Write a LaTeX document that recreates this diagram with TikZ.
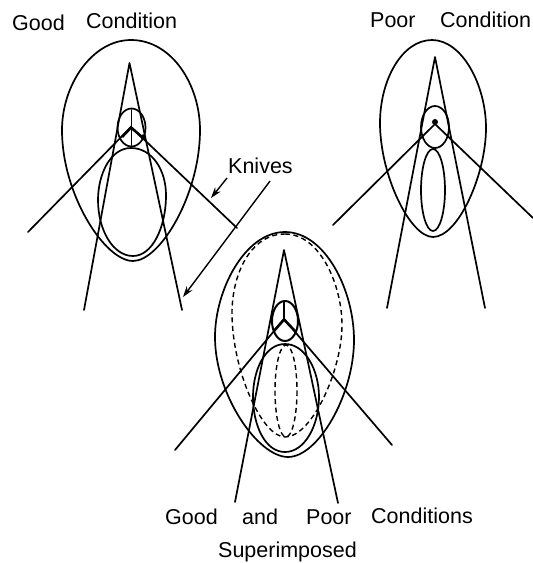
\documentclass[tikz,border=0pt]{standalone}
\usepackage{fontspec}
\setmainfont{Liberation Sans}
\usetikzlibrary{arrows.meta}
\tikzset{
  ink/.style={line width=1.7pt,black,line join=round,line cap=round},
  dash ink/.style={line width=1.4pt,black,dash pattern=on 5pt off 3.5pt},
  label word/.style={anchor=base west,inner sep=0pt,font=\fontsize{21.5}{24}\selectfont},
  pointer/.style={line width=1.4pt,-{Stealth[length=11pt,width=7pt]}}
}
\begin{document}
\begin{tikzpicture}[x=1pt,y=-1pt]
\useasboundingbox (0,0) rectangle (533,563);
% Good condition
\draw[ink] (131,40) .. controls (172,40) and (200,85) .. (200,130) .. controls (200,195) and (160,261) .. (133,261) .. controls (105,261) and (62,195) .. (62,130) .. controls (62,85) and (92,40) .. (131,40) -- cycle;
\draw[ink] (131,148) .. controls (152,148) and (166,170) .. (166,195) .. controls (166,228) and (152,256) .. (133,256) .. controls (113,256) and (98,230) .. (98,200) .. controls (98,175) and (110,148) .. (131,148) -- cycle;
\draw[ink] (84,310) -- (129.5,63) -- (182,310);
\draw[ink] (28,232) -- (131,127) -- (237,228);
\draw[ink] (131.5,127.5) ellipse [x radius=14,y radius=19];
\draw[ink] (131.5,110) -- (131.5,146);
\draw[line width=2.6pt] (122,137) -- (131,127.5) -- (142,137);
\fill (143,137) circle (2.6);
% Poor condition
\draw[ink] (432,40) .. controls (462,40) and (486,85) .. (486,128) .. controls (486,175) and (458,237) .. (433,237) .. controls (410,237) and (380,175) .. (380,123) .. controls (380,80) and (402,40) .. (432,40) -- cycle;
\draw[ink] (387,308) -- (435,57) -- (485,308);
\draw[ink] (333,225) -- (435,124) -- (533,218);
\draw[ink] (435,127) ellipse [x radius=14,y radius=21];
\draw[ink] (433,190) ellipse [x radius=12,y radius=41];
\fill (435,122) circle (3);
% Superimposed
\draw[ink] (285,232) .. controls (325,232) and (354,290) .. (354,340) .. controls (354,395) and (318,457) .. (288,457) .. controls (258,457) and (215,395) .. (215,337) .. controls (215,290) and (245,232) .. (285,232) -- cycle;
\draw[ink] (285,344) .. controls (305,344) and (319,370) .. (319,397) .. controls (319,425) and (305,452) .. (285,452) .. controls (265,452) and (253,425) .. (253,397) .. controls (253,370) and (265,344) .. (285,344) -- cycle;
\draw[dash ink] (285,234) .. controls (320,234) and (342,285) .. (342,325) .. controls (342,370) and (312,437) .. (285,437) .. controls (262,437) and (232,370) .. (232,313) .. controls (232,275) and (250,234) .. (285,234) -- cycle;
\draw[dash ink] (286,391) ellipse [x radius=11,y radius=46];
\draw[ink] (235,502) -- (284,250) -- (338,503);
\draw[ink] (175,450) -- (284,319) -- (392,445);
\draw[line width=2pt] (285,321) ellipse [x radius=13,y radius=20];
\draw[ink] (284,301) -- (284,319);
\draw[line width=2.6pt] (274,331) -- (284,319.5) -- (295,331);
% Knives
\node[label word] (knives) at (228,173) {Knives};
\coordinate (shortfrom) at (227,178);
\coordinate (shortto) at (211,198);
\coordinate (longfrom) at (270,181);
\coordinate (longto) at (183,297);
\draw[pointer] (shortfrom) -- (shortto);
\draw[pointer] (longfrom) -- (longto);
% Labels
\node[label word] (g1) at (12,30) {Good};
\node[label word] (c1) at (86,28) {Condition};
\node[label word] (p2) at (370,27) {Poor};
\node[label word] (c2) at (440,27) {Condition};
\node[label word] (g3) at (165,524) {Good};
\node[label word] (a3) at (242,524) {and};
\node[label word] (p3) at (306,524) {Poor};
\node[label word] (c3) at (371,523) {Conditions};
\node[label word] (s3) at (218,557) {Superimposed};
\end{tikzpicture}
\end{document}
